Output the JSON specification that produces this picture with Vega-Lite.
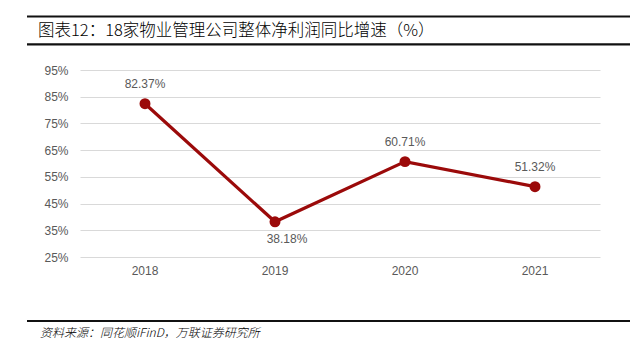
{
  "$schema": "https://vega.github.io/schema/vega-lite/v6.json",
  "width": 520,
  "height": 187,
  "autosize": {"type": "none"},
  "padding": {"left": 80, "top": 70, "right": 37, "bottom": 95},
  "background": "white",
  "config": {"view": {"stroke": null}, "font": "Liberation Sans"},
  "data": {"values": [
    {"year": "2018", "growth": 82.37, "label": "82.37%", "pos": "above"},
    {"year": "2019", "growth": 38.18, "label": "38.18%", "pos": "below"},
    {"year": "2020", "growth": 60.71, "label": "60.71%", "pos": "above"},
    {"year": "2021", "growth": 51.32, "label": "51.32%", "pos": "above"}
  ]},
  "encoding": {
    "x": {"field": "year", "type": "ordinal", "scale": {"paddingInner": 0, "paddingOuter": 0, "type": "band"},
      "axis": {"title": null, "domain": false, "ticks": false, "labelAngle": 0, "labelFontSize": 12, "labelColor": "#595959", "labelPadding": 8, "labelFont": "Liberation Sans"}},
    "y": {"field": "growth", "type": "quantitative", "scale": {"domain": [25, 95], "nice": false, "zero": false},
      "axis": {"title": null, "values": [25, 35, 45, 55, 65, 75, 85, 95], "labelExpr": "datum.value + '%'", "domain": false, "ticks": false, "gridColor": "#d9d9d9", "gridWidth": 1, "labelFontSize": 12, "labelColor": "#595959", "labelPadding": 12, "labelFont": "Liberation Sans"}}
  },
  "layer": [
    {"mark": {"type": "line", "color": "#9b0a0a", "strokeWidth": 3.2}},
    {"mark": {"type": "point", "filled": true, "color": "#9b0a0a", "size": 120, "opacity": 1}},
    {"transform": [{"filter": "datum.pos == 'above'"}],
     "mark": {"type": "text", "dy": -20, "fontSize": 12, "color": "#595959", "font": "Liberation Sans"},
     "encoding": {"text": {"field": "label"}}},
    {"transform": [{"filter": "datum.pos == 'below'"}],
     "mark": {"type": "text", "dy": 17, "dx": 12, "fontSize": 12, "color": "#595959", "font": "Liberation Sans"},
     "encoding": {"text": {"field": "label"}}},
    {"data": {"values": [{"t": "图表12：18家物业管理公司整体净利润同比增速（%）"}]},
     "mark": {"type": "text", "align": "left", "baseline": "middle", "fontSize": 16.5, "fontWeight": 300, "color": "#000000", "font": "Noto Sans CJK SC"},
     "encoding": {"text": {"field": "t"}, "x": {"value": -42}, "y": {"value": -39}}},
    {"data": {"values": [{"t": "资料来源：同花顺iFinD，万联证券研究所"}]},
     "mark": {"type": "text", "align": "left", "baseline": "middle", "fontSize": 12, "fontStyle": "italic", "fontWeight": 300, "color": "#000000", "font": "Noto Sans CJK SC"},
     "encoding": {"text": {"field": "t"}, "x": {"value": -40}, "y": {"value": 263}}},
    {"data": {"values": [{"k": 1}]},
     "mark": {"type": "rule", "color": "#111111", "strokeWidth": 2.2},
     "encoding": {"x": {"value": -53}, "x2": {"value": 550}, "y": {"value": -53.5}}},
    {"data": {"values": [{"k": 1}]},
     "mark": {"type": "rule", "color": "#111111", "strokeWidth": 2.2},
     "encoding": {"x": {"value": -53}, "x2": {"value": 550}, "y": {"value": -25.7}}},
    {"data": {"values": [{"k": 1}]},
     "mark": {"type": "rule", "color": "#111111", "strokeWidth": 2.2},
     "encoding": {"x": {"value": -53}, "x2": {"value": 550}, "y": {"value": 251}}}
  ]
}
